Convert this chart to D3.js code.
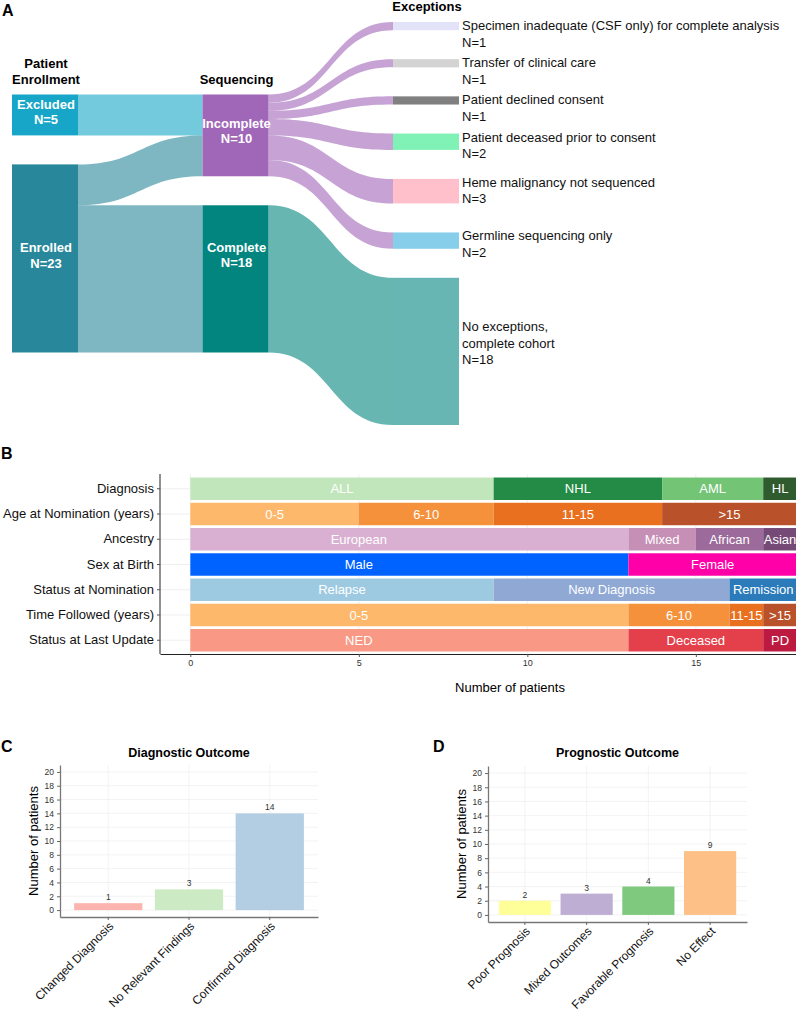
<!DOCTYPE html>
<html>
<head>
<meta charset="utf-8">
<script src="https://cdn.jsdelivr.net/npm/d3@7"></script>
<style>
  body { margin: 0; background: #fff; }
  svg { display: block; font-family: "Liberation Sans", Arial, Helvetica, sans-serif; }
</style>
</head>
<body>
<svg id="chart" width="796" height="1011"></svg>
<script>
// ---------- data ----------
// Panel A: patient flow
const stageNames = ["Patient\nEnrollment", "Sequencing", "Exceptions"];
const nodeNames = ["Excluded", "Enrolled", "Incomplete", "Complete",
  "Specimen inadequate (CSF only) for complete analysis",
  "Transfer of clinical care", "Patient declined consent",
  "Patient deceased prior to consent", "Heme malignancy not sequenced",
  "Germline sequencing only", "No exceptions,\ncomplete cohort"];
const nodeStage = [0, 0, 1, 1, 2, 2, 2, 2, 2, 2, 2];
const linkSource = [0, 1, 1, 2, 2, 2, 2, 2, 2, 3];
const linkTarget = [2, 2, 3, 4, 5, 6, 7, 8, 9, 10];
const linkValue = [5, 5, 18, 1, 1, 1, 2, 3, 2, 18];

// Panel B: cohort characteristics
const featureNames = ["Diagnosis", "Age at Nomination (years)", "Ancestry", "Sex at Birth",
  "Status at Nomination", "Time Followed (years)", "Status at Last Update"];
const diagnosisGroups = ["ALL", "NHL", "AML", "HL"];
const diagnosisCounts = [9, 5, 3, 1];
const ageGroups = ["0-5", "6-10", "11-15", ">15"];
const ageCounts = [5, 4, 5, 4];
const ancestryGroups = ["European", "Mixed", "African", "Asian"];
const ancestryCounts = [13, 2, 2, 1];
const sexGroups = ["Male", "Female"];
const sexCounts = [13, 5];
const nominationGroups = ["Relapse", "New Diagnosis", "Remission"];
const nominationCounts = [9, 7, 2];
const followedGroups = ["0-5", "6-10", "11-15", ">15"];
const followedCounts = [13, 3, 1, 1];
const lastUpdateGroups = ["NED", "Deceased", "PD"];
const lastUpdateCounts = [13, 4, 1];
const patientTicks = [0, 5, 10, 15];

// Panels C and D
const diagnosticCategories = ["Changed Diagnosis", "No Relevant Findings", "Confirmed Diagnosis"];
const diagnosticCounts = [1, 3, 14];
const prognosticCategories = ["Poor Prognosis", "Mixed Outcomes", "Favorable Prognosis", "No Effect"];
const prognosticCounts = [2, 3, 4, 9];
const countTicks = [0, 2, 4, 6, 8, 10, 12, 14, 16, 18, 20];

// ---------- colours ----------
const nodeColors = ["#17a6c7", "#28879a", "#a066b8", "#02857f", "#e2e2f8", "#d3d3d3",
  "#808080", "#80f2b6", "#ffc0cb", "#87ceeb", "#67b6b4"];
const featureColors = [
  ["#c2e6bb", "#238b45", "#74c476", "#2f5b2f"],
  ["#fdb86b", "#f4913a", "#e8701f", "#b9522a"],
  ["#d9b0d1", "#c68fb5", "#9c6a9b", "#754a76"],
  ["#0062ff", "#ff00a8"],
  ["#9ecae1", "#8fa8d4", "#2b7bbb"],
  ["#fdb86b", "#f4913a", "#e8701f", "#b9522a"],
  ["#f99985", "#e3404b", "#bc1a40"]
];
const diagnosticColors = ["#fbb4ae", "#ccebc5", "#b3cde3"];
const prognosticColors = ["#ffff99", "#beaed4", "#7fc97f", "#fdc086"];

const svg = d3.select("#chart");

// panel letters
[["A", 2, 16], ["B", 1, 459], ["C", 1, 752], ["D", 433, 752]].forEach(([t, x, y]) => {
  svg.append("text").attr("x", x).attr("y", y).attr("font-size", 16)
    .attr("font-weight", "bold").text(t);
});

// ---------- Panel A: sankey ----------
const A = { top: 22, bottom: 425, left: 12, right: 393, nodeW: 66, pad: 29 };

const nodes = nodeNames.map((name, i) => ({ i, name, stage: nodeStage[i], inV: 0, outV: 0 }));
const links = linkSource.map((s, i) => ({
  source: nodes[s], target: nodes[linkTarget[i]], value: linkValue[i]
}));
links.forEach(l => { l.source.outV += l.value; l.target.inV += l.value; });
nodes.forEach(n => { n.value = Math.max(n.inV, n.outV); });

const stages = d3.groups(nodes, n => n.stage);
const ky = d3.min(stages, ([, ns]) =>
  (A.bottom - A.top - (ns.length - 1) * A.pad) / d3.sum(ns, n => n.value));
const vScale = d3.scaleLinear().domain([0, 1]).range([0, ky]);
const stageX = d3.scaleLinear().domain([0, stageNames.length - 1]).range([A.left, A.right]);
const midY = (A.top + A.bottom) / 2;

stages.forEach(([s, ns]) => {
  const total = d3.sum(ns, n => vScale(n.value)) + (ns.length - 1) * A.pad;
  let y = midY - total / 2;
  ns.forEach(n => {
    n.x0 = stageX(s);
    n.x1 = n.x0 + A.nodeW;
    n.y0 = y;
    n.y1 = y + vScale(n.value);
    n.sy = n.y0;
    n.ty = n.y0;
    y = n.y1 + A.pad;
  });
});
links.forEach(l => {
  l.w = vScale(l.value);
  l.y0 = l.source.sy; l.source.sy += l.w;
  l.y1 = l.target.ty; l.target.ty += l.w;
});

const ribbon = l => {
  const x0 = l.source.x1, x1 = l.target.x0, xm = (x0 + x1) / 2;
  const p = d3.path();
  p.moveTo(x0, l.y0);
  p.bezierCurveTo(xm, l.y0, xm, l.y1, x1, l.y1);
  p.lineTo(x1, l.y1 + l.w);
  p.bezierCurveTo(xm, l.y1 + l.w, xm, l.y0 + l.w, x0, l.y0 + l.w);
  p.closePath();
  return p.toString();
};

const gA = svg.append("g");
gA.selectAll("path.link").data(links).join("path")
  .attr("class", "link")
  .attr("d", ribbon)
  .attr("fill", l => nodeColors[l.source.i])
  .attr("fill-opacity", 0.6);

gA.selectAll("rect.node").data(nodes).join("rect")
  .attr("class", "node")
  .attr("x", n => n.x0).attr("y", n => n.y0)
  .attr("width", A.nodeW).attr("height", n => n.y1 - n.y0)
  .attr("fill", n => nodeColors[n.i]);

// stage headers
stages.forEach(([s, ns]) => {
  const lines = stageNames[s].split("\n");
  const top = d3.min(ns, n => n.y0);
  lines.forEach((t, k) => {
    gA.append("text")
      .attr("x", stageX(s) + A.nodeW / 2 + 1)
      .attr("y", top - 11 - (lines.length - 1 - k) * 16)
      .attr("text-anchor", "middle").attr("font-size", 13).attr("font-weight", "bold")
      .text(t);
  });
});

// labels inside left nodes
const innerShift = { Incomplete: -1.5, Complete: -21 };
nodes.filter(n => n.stage < 2).forEach(n => {
  const cy = (n.y0 + n.y1) / 2 - 6 + (innerShift[n.name] || 0);
  [n.name, "N=" + n.value].forEach((t, k) => {
    gA.append("text")
      .attr("x", (n.x0 + n.x1) / 2 + 1).attr("y", cy + k * 15.5)
      .attr("text-anchor", "middle").attr("fill", "#fff")
      .attr("font-size", 13).attr("font-weight", "bold").text(t);
  });
});

// labels right of exception nodes
nodes.filter(n => n.stage === 2).forEach(n => {
  const lines = n.name.split("\n").concat(["N=" + n.value]);
  const cy = (n.y0 + n.y1) / 2;
  const first = Math.max(n.y0 + 8, cy - (lines.length - 1) * 17 / 2 - 3);
  lines.forEach((t, k) => {
    gA.append("text")
      .attr("x", n.x1 + 3).attr("y", first + k * 16.5)
      .attr("font-size", 13).attr("fill", "#111").text(t);
  });
});

// ---------- Panel B: stacked bars ----------
const featureGroups = [diagnosisGroups, ageGroups, ancestryGroups, sexGroups,
  nominationGroups, followedGroups, lastUpdateGroups];
const featureCounts = [diagnosisCounts, ageCounts, ancestryCounts, sexCounts,
  nominationCounts, followedCounts, lastUpdateCounts];

const segments = [];
featureNames.forEach((f, i) => {
  const ends = d3.cumsum(featureCounts[i]);
  featureGroups[i].forEach((g, j) => {
    segments.push({ feature: f, group: g, start: ends[j] - featureCounts[i][j], end: ends[j],
      color: featureColors[i][j], first: j === 0 });
  });
});

const B = { left: 160, top: 475, bottom: 654 };
const xB = d3.scaleLinear().domain([-0.9, 18.9]).range([B.left, B.left + 19.8 * 33.7]);
const yB = d3.scaleBand().domain(featureNames).range([B.top, B.bottom])
  .paddingInner(0.11).paddingOuter(0.1);

const gB = svg.append("g");
gB.selectAll("line.hgrid").data(featureNames).join("line")
  .attr("x1", B.left).attr("x2", 796)
  .attr("y1", d => yB(d) + yB.bandwidth() / 2).attr("y2", d => yB(d) + yB.bandwidth() / 2)
  .attr("stroke", "#ebebeb").attr("stroke-width", 0.8);
gB.selectAll("line.vgrid").data(patientTicks).join("line")
  .attr("x1", d => xB(d)).attr("x2", d => xB(d))
  .attr("y1", B.top - 1).attr("y2", B.bottom)
  .attr("stroke", "#ebebeb").attr("stroke-width", 0.8);

gB.selectAll("rect.seg").data(segments).join("rect")
  .attr("x", d => xB(d.start)).attr("width", d => xB(d.end) - xB(d.start))
  .attr("y", d => yB(d.feature)).attr("height", yB.bandwidth())
  .attr("fill", d => d.color);

gB.selectAll("text.seg").data(segments).join("text")
  .attr("x", d => {
    const c = (d.start + d.end) / 2;
    return xB(d.first ? Math.min(c, 5) : c);
  })
  .attr("y", d => yB(d.feature) + yB.bandwidth() / 2)
  .attr("dy", "0.36em").attr("text-anchor", "middle")
  .attr("fill", "#fff").attr("font-size", 13).text(d => d.group);

const yAxisB = gB.append("g").attr("transform", `translate(${B.left},0)`)
  .call(d3.axisLeft(yB).tickSize(3).tickSizeOuter(0));
yAxisB.select(".domain").attr("stroke", "#222").attr("d", `M0,${B.top - 1}V${B.bottom}`);
yAxisB.selectAll(".tick line").attr("stroke", "#555");
yAxisB.selectAll(".tick text").attr("font-size", 13).attr("fill", "#111")
  .attr("font-family", "Liberation Sans, Arial, sans-serif");

const xAxisB = gB.append("g").attr("transform", `translate(0,${B.bottom})`)
  .call(d3.axisBottom(xB).tickValues(patientTicks).tickSize(3).tickSizeOuter(0));
xAxisB.select(".domain").attr("stroke", "#222");
xAxisB.selectAll(".tick line").attr("stroke", "#555");
xAxisB.selectAll(".tick text").attr("font-size", 9).attr("fill", "#333")
  .attr("font-family", "Liberation Sans, Arial, sans-serif");

gB.append("text").attr("x", 510).attr("y", 692).attr("text-anchor", "middle")
  .attr("font-size", 13).text("Number of patients");

// ---------- Panels C and D: bar charts ----------
function barPanel(o) {
  const g = svg.append("g");
  const x = d3.scaleBand().domain(o.categories).range([o.x0, o.x1])
    .paddingInner(0.155).paddingOuter(0.175);
  const y = d3.scaleLinear().domain([-1, 21]).range([o.yBottom, o.yTop]);
  const data = o.categories.map((c, i) => ({ c, v: o.counts[i], color: o.colors[i] }));

  g.selectAll("line.hgrid").data(countTicks).join("line")
    .attr("x1", o.x0).attr("x2", o.x1).attr("y1", d => y(d)).attr("y2", d => y(d))
    .attr("stroke", "#eeeeee").attr("stroke-width", 0.7);
  g.selectAll("line.vgrid").data(o.categories).join("line")
    .attr("x1", d => x(d) + x.bandwidth() / 2).attr("x2", d => x(d) + x.bandwidth() / 2)
    .attr("y1", o.yTop).attr("y2", o.yBottom)
    .attr("stroke", "#eeeeee").attr("stroke-width", 0.7);

  g.selectAll("rect.bar").data(data).join("rect")
    .attr("x", d => x(d.c)).attr("width", x.bandwidth())
    .attr("y", d => y(d.v)).attr("height", d => y(0) - y(d.v))
    .attr("fill", d => d.color);

  g.selectAll("text.val").data(data).join("text")
    .attr("x", d => x(d.c) + x.bandwidth() / 2).attr("y", d => y(d.v) - 3)
    .attr("text-anchor", "middle").attr("font-size", 8.5).attr("fill", "#333")
    .text(d => d.v);

  const ya = g.append("g").attr("transform", `translate(${o.x0},0)`)
    .call(d3.axisLeft(y).tickValues(countTicks).tickSize(3).tickSizeOuter(0));
  const xa = g.append("g").attr("transform", `translate(0,${o.yBottom})`)
    .call(d3.axisBottom(x).tickSize(3).tickSizeOuter(0));
  [ya, xa].forEach(a => {
    a.select(".domain").attr("stroke", "#777").attr("stroke-width", 1.3);
    a.selectAll(".tick line").attr("stroke", "#666");
    a.selectAll(".tick text").attr("font-family", "Liberation Sans, Arial, sans-serif");
  });
  ya.selectAll(".tick text").attr("font-size", 8.5).attr("fill", "#333");
  xa.selectAll(".tick text")
    .attr("font-size", 12).attr("fill", "#111")
    .attr("x", 0).attr("y", 0).attr("dy", "0.7em")
    .attr("text-anchor", "end")
    .attr("transform", "translate(0,4) rotate(-45)");

  g.append("text").attr("x", (o.x0 + o.x1) / 2).attr("y", 757)
    .attr("text-anchor", "middle").attr("font-size", 12.5).attr("font-weight", "bold")
    .text(o.title);
  g.append("text")
    .attr("transform", `translate(${o.x0 - 22},${(o.yTop + o.yBottom) / 2}) rotate(-90)`)
    .attr("text-anchor", "middle").attr("font-size", 13).text("Number of patients");
}

barPanel({ title: "Diagnostic Outcome", categories: diagnosticCategories,
  counts: diagnosticCounts, colors: diagnosticColors,
  x0: 60, x1: 318, yTop: 765, yBottom: 917 });
barPanel({ title: "Prognostic Outcome", categories: prognosticCategories,
  counts: prognosticCounts, colors: prognosticColors,
  x0: 488, x1: 747, yTop: 766, yBottom: 922 });
</script>
</body>
</html>
